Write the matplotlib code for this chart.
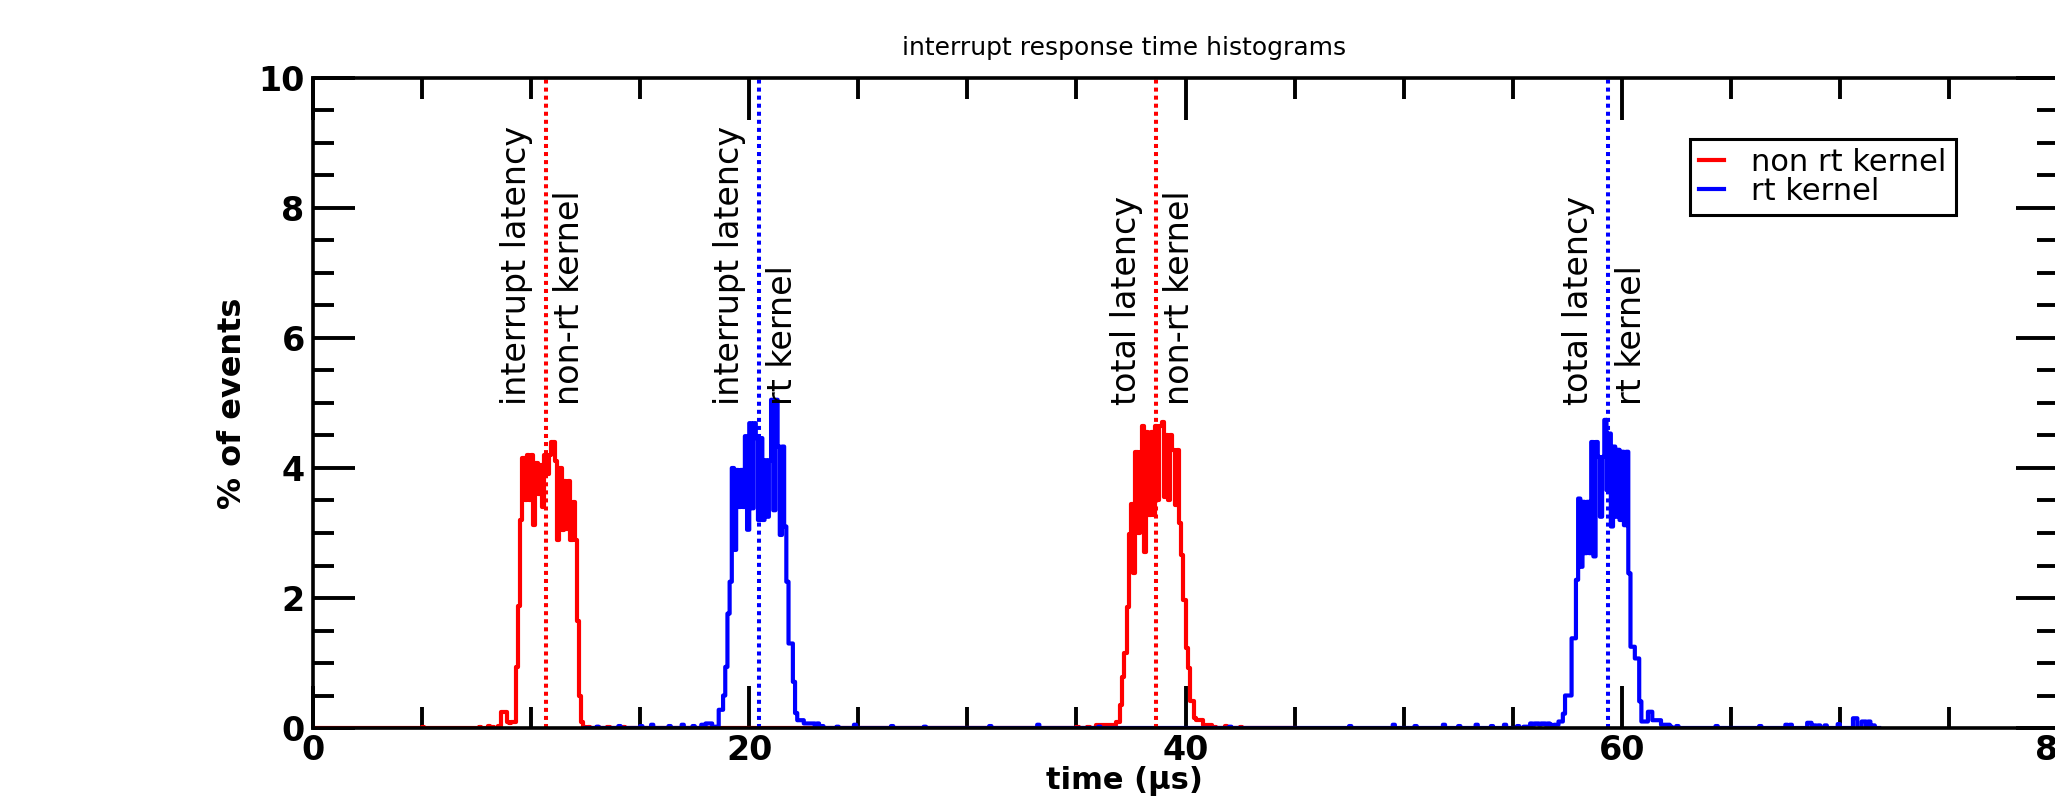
import numpy as np
import matplotlib
matplotlib.use("Agg")
import matplotlib.pyplot as plt
from matplotlib.ticker import MultipleLocator

# histogram values (% of events), bins of 0.1 us
bin_width = 0.1

red_peak1_start = 8.5
red_peak1 = [0.03, 0.24, 0.24, 0.24, 0.10, 0.08, 0.10, 0.10, 0.94, 1.87,
             3.20, 4.15, 3.50, 4.20, 3.50, 4.20, 3.12, 4.08, 3.60, 4.05,
             3.40, 4.20, 3.90, 4.20, 4.40, 4.40, 4.10, 2.90, 4.00, 3.05,
             3.80, 3.06, 3.80, 2.90, 3.47, 2.90, 1.64, 0.50, 0.10, 0.02,
             0.00, 0.02]

red_peak2_start = 35.9
red_peak2 = [0.04, 0.05, 0.04, 0.04, 0.05, 0.04, 0.04, 0.05, 0.04, 0.10,
             0.10, 0.35, 0.79, 1.15, 1.86, 2.99, 3.45, 2.38, 4.25, 3.00,
             4.25, 4.64, 2.71, 4.56, 3.28, 4.56, 3.28, 4.64, 3.50, 4.64,
             4.71, 3.55, 4.51, 3.50, 4.51, 4.28, 3.43, 4.28, 3.15, 2.66,
             1.97, 1.23, 0.92, 0.41, 0.41, 0.15, 0.12, 0.12, 0.12, 0.05,
             0.05, 0.05, 0.05]

blue_peak1_start = 18.0
blue_peak1 = [0.07, 0.07, 0.07, 0.02, 0.02, 0.02, 0.28, 0.28, 0.50, 0.94,
              1.76, 2.25, 4.00, 2.74, 3.97, 3.40, 3.97, 3.40, 4.49, 3.05,
              4.69, 3.38, 4.69, 4.46, 3.20, 4.46, 3.20, 4.12, 3.25, 4.12,
              5.05, 3.35, 5.05, 4.33, 2.97, 4.33, 3.10, 2.25, 1.30, 1.30,
              0.71, 0.23, 0.12, 0.12, 0.12, 0.07, 0.07, 0.07, 0.07, 0.07,
              0.02, 0.07, 0.02]

blue_peak2_start = 55.5
blue_peak2 = [0.02, 0.02, 0.02, 0.07, 0.05, 0.07, 0.07, 0.05, 0.07, 0.07,
              0.05, 0.07, 0.05, 0.03, 0.05, 0.05, 0.10, 0.10, 0.22, 0.50,
              0.50, 0.50, 1.38, 1.38, 2.28, 3.53, 2.48, 3.48, 2.69, 3.48,
              2.69, 4.40, 2.64, 4.40, 4.17, 3.25, 4.17, 4.74, 3.66, 4.53,
              3.10, 4.33, 3.25, 4.28, 3.20, 4.25, 3.12, 4.25, 2.38, 1.25,
              1.25, 1.07, 1.07, 0.41, 0.10, 0.10, 0.10, 0.25, 0.25, 0.12,
              0.12, 0.12, 0.12, 0.05, 0.05, 0.05, 0.05, 0.02]

# sparse counts away from the peaks
red_tail_x = [5.0, 7.6, 8.0, 8.2, 12.6, 13.0, 13.5, 14.2, 35.0, 35.5, 41.3, 41.8, 42.5]
red_tail_y = [0.01, 0.02, 0.03, 0.02, 0.02, 0.02, 0.01, 0.01, 0.02, 0.02, 0.02, 0.03, 0.02]

blue_tail_x = [13.0, 14.0, 15.0, 15.5, 16.3, 16.9, 17.4, 17.8, 23.3, 24.0, 24.8,
               26.5, 28.0, 31.0, 33.2, 36.0, 42.0, 47.5, 49.5, 50.5, 51.8, 52.5,
               53.3, 54.0, 54.6, 55.2, 62.5, 64.3, 66.3, 67.5, 67.7, 68.5, 68.6,
               68.8, 69.0, 69.3, 69.9, 70.6, 70.7, 71.0, 71.1, 71.3, 71.5]
blue_tail_y = [0.02, 0.03, 0.03, 0.05, 0.03, 0.05, 0.03, 0.05, 0.03, 0.02, 0.05,
               0.03, 0.02, 0.03, 0.05, 0.02, 0.02, 0.03, 0.05, 0.03, 0.05, 0.03,
               0.05, 0.03, 0.05, 0.03, 0.03, 0.03, 0.03, 0.05, 0.05, 0.08, 0.08,
               0.04, 0.04, 0.04, 0.06, 0.15, 0.15, 0.10, 0.10, 0.10, 0.04]

red_range = (0.0, 45.0)
blue_range = (12.5, 71.8)

# latency markers
marker_x = [10.7, 20.43, 38.67, 59.37]
marker_series = ["red", "blue", "red", "blue"]
marker_text1 = ["interrupt latency", "interrupt latency", "total latency", "total latency"]
marker_text2 = ["non-rt kernel", "rt kernel", "non-rt kernel", "rt kernel"]

series_labels = {"red": "non rt kernel", "blue": "rt kernel"}
colors = {"red": "#ff0000", "blue": "#0000ff"}

edges = np.round(np.arange(0, 80 + bin_width / 2, bin_width), 6)
nbins = len(edges) - 1


def build(peaks, tail_x, tail_y):
    arr = np.zeros(nbins)
    for start, vals in peaks:
        i = int(round(start / bin_width))
        arr[i:i + len(vals)] = vals
    for x, y in zip(tail_x, tail_y):
        arr[int(round(x / bin_width))] = y
    return arr


hist = {
    "red": build([(red_peak1_start, red_peak1), (red_peak2_start, red_peak2)],
                 red_tail_x, red_tail_y),
    "blue": build([(blue_peak1_start, blue_peak1), (blue_peak2_start, blue_peak2)],
                  blue_tail_x, blue_tail_y),
}
ranges = {"red": red_range, "blue": blue_range}

fig = plt.figure(figsize=(20.55, 7.96), dpi=100)
ax = fig.add_axes([313 / 2055, 68 / 796, 1745 / 2055, 650 / 796])

for name in ["red", "blue"]:
    i0 = int(round(ranges[name][0] / bin_width))
    i1 = int(round(ranges[name][1] / bin_width))
    vals = hist[name][i0:i1]
    ax.step(edges[i0:i1 + 1], np.append(vals, vals[-1]), where="post",
            color=colors[name], lw=3.0, label=series_labels[name])

for x, s, t1, t2 in zip(marker_x, marker_series, marker_text1, marker_text2):
    ax.axvline(x, color=colors[s], lw=2.9, linestyle=(0, (1, 1)))
    ax.text(x - 0.92, 4.97, t1, rotation=90, rotation_mode="anchor",
            ha="left", va="baseline", fontsize=24)
    ax.text(x + 1.51, 4.97, t2, rotation=90, rotation_mode="anchor",
            ha="left", va="baseline", fontsize=24)

ax.set_xlim(0, 80)
ax.set_ylim(0, 10)
ax.set_xticks([0, 20, 40, 60, 80])
ax.set_yticks([0, 2, 4, 6, 8, 10])
ax.xaxis.set_minor_locator(MultipleLocator(5))
ax.yaxis.set_minor_locator(MultipleLocator(0.5))
ax.tick_params(which="both", direction="in", top=True, right=True, width=2.8)
ax.tick_params(which="major", length=30)
ax.tick_params(which="minor", length=15)
ax.tick_params(axis="y", pad=6, labelsize=24)
ax.tick_params(axis="x", pad=4, labelsize=24)
for lab in ax.get_xticklabels() + ax.get_yticklabels():
    lab.set_fontweight("bold")
for sp in ax.spines.values():
    sp.set_linewidth(2.6)

ax.set_ylabel("% of events", fontsize=23, fontweight="bold")
ax.yaxis.set_label_coords(-0.037, 0.5)
ax.set_xlabel("time (\u03bcs)", fontsize=22, fontweight="bold")
ax.xaxis.set_label_coords(0.465, -0.058)
ax.set_title("interrupt response time histograms", fontsize=18, x=0.465, pad=16.5)

leg = ax.legend(loc="upper left", bbox_to_anchor=(1690 / 2055, 1 - 139 / 796),
                bbox_transform=fig.transFigure, borderaxespad=0, fontsize=22,
                handlelength=0.8, handletextpad=0.9, borderpad=0.3,
                labelspacing=0.0, fancybox=False, framealpha=1, edgecolor="black")
leg.get_frame().set_linewidth(2.2)

fig.savefig("out.png", dpi=100)
